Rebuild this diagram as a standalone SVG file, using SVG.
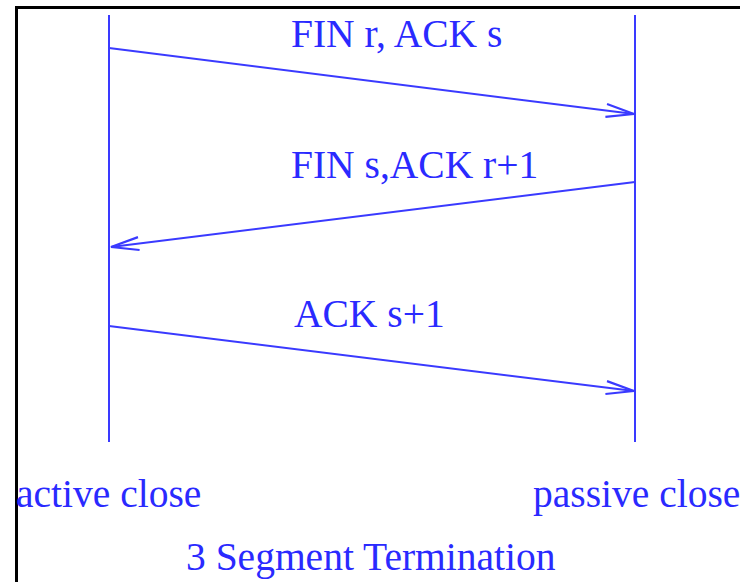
<svg xmlns="http://www.w3.org/2000/svg" width="740" height="582" viewBox="0 0 740 582">
<style>
.life{stroke:#3a3aff;stroke-width:2;fill:none}
.msg{stroke:#3a3aff;stroke-width:2;fill:none}
text{font-family:"Liberation Serif","Times New Roman",serif;font-size:39.5px;fill:#2a2aff}
</style>
<defs>
<marker id="ah" markerUnits="userSpaceOnUse" viewBox="-30 -10 32 20" refX="0" refY="0" markerWidth="32" markerHeight="20" orient="auto">
<path d="M-28,-6.5 L0,0 L-28,6.5" fill="none" stroke="#3a3aff" stroke-width="2.2"/>
</marker>
</defs>
<rect width="740" height="582" fill="#ffffff"/>
<path d="M16.5,590 L16.5,7.5 L750,7.5" fill="none" stroke="#000" stroke-width="3"/>
<g id="active">
<line class="life" x1="109" y1="15" x2="109" y2="442"/>
<text x="16" y="507">active close</text>
</g>
<g id="passive">
<line class="life" x1="635" y1="15" x2="635" y2="442"/>
<text x="533" y="507">passive close</text>
</g>
<g id="connectors">
<line class="msg" x1="109" y1="48" x2="634" y2="114" marker-end="url(#ah)"/>
<line class="msg" x1="635" y1="182" x2="111" y2="247" marker-end="url(#ah)"/>
<line class="msg" x1="109" y1="326" x2="634" y2="391" marker-end="url(#ah)"/>
</g>
<g id="labels">
<text x="291" y="47">FIN r, ACK s</text>
<text x="291" y="178">FIN s,ACK r+1</text>
<text x="294" y="327">ACK s+1</text>
<text x="186" y="570">3 Segment Termination</text>
</g>
</svg>
